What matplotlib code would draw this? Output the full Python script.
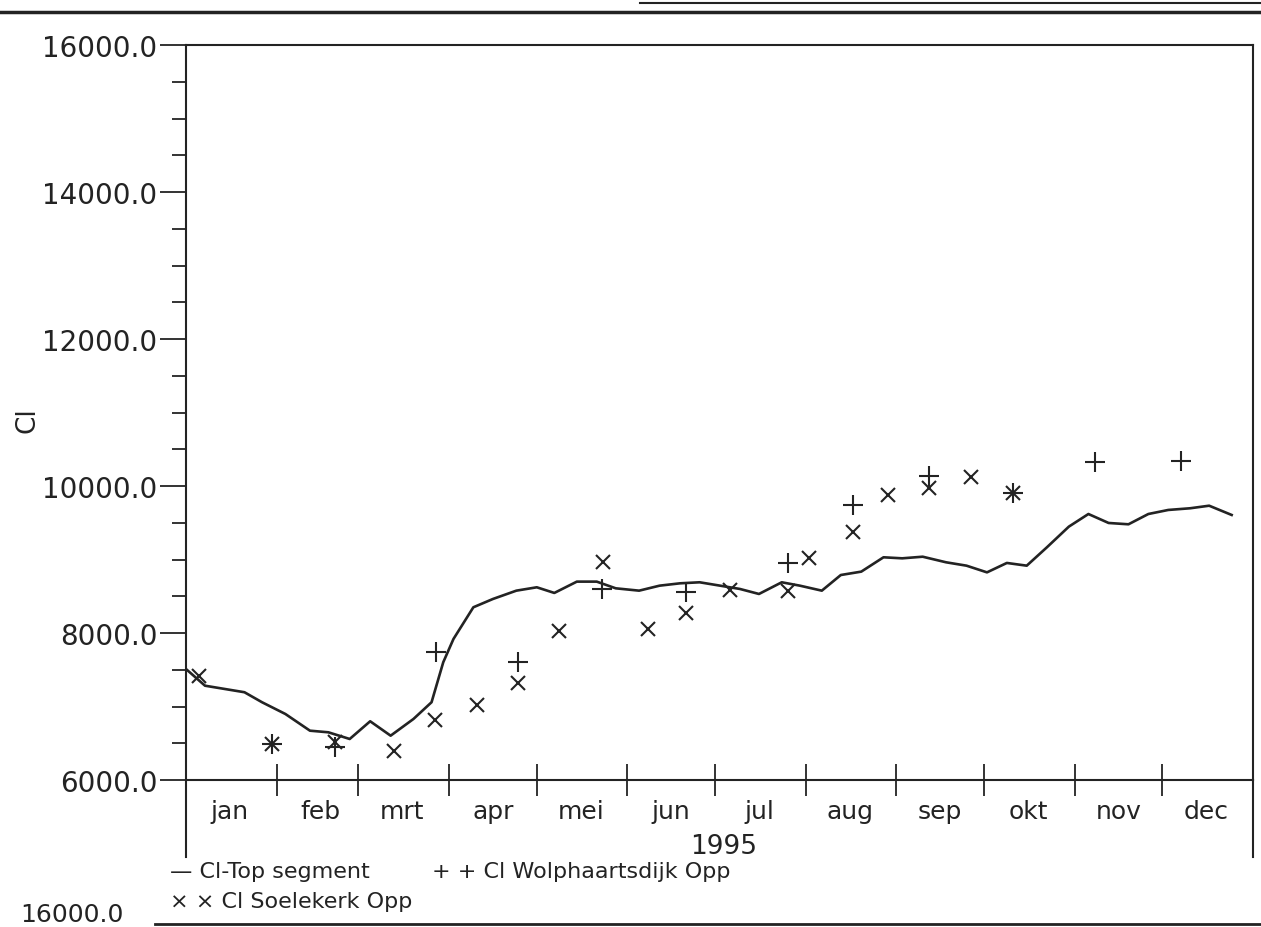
import numpy as np
import pandas as pd
import matplotlib
matplotlib.use("Agg")
import matplotlib.pyplot as plt
import matplotlib.dates as mdates
from matplotlib.ticker import FormatStrFormatter, MultipleLocator, FuncFormatter
from matplotlib.lines import Line2D

# Cl (mg/l) 1995, x = dagen na 1 januari
top_dag = [0, 6.5, 20, 26, 34, 42.4, 48.7, 56, 63, 70, 77.8, 84, 88, 91.5, 98.3,
           105, 113, 120, 126, 133.7, 140.5, 147, 155, 162, 169, 175.7, 182.7,
           189.5, 196, 203.8, 210, 217.5, 224, 231, 238.6, 245, 252, 260, 267,
           274, 280.8, 287.6, 294.5, 302, 308.7, 315.6, 322.4, 329.2, 336,
           343.5, 350, 357.7]
top_cl = [7510, 7283, 7194, 7058, 6898, 6671, 6649, 6558, 6799, 6603, 6830, 7058,
          7602, 7919, 8350, 8463, 8576, 8622, 8545, 8699, 8699, 8608, 8576, 8644,
          8676, 8690, 8644, 8599, 8531, 8690, 8644, 8576, 8789, 8835, 9030, 9016,
          9038, 8962, 8916, 8825, 8953, 8916, 9166, 9447, 9619, 9497, 9479, 9619,
          9674, 9697, 9732, 9606]

soel_dag = [4.4, 29.3, 51, 71, 85.2, 99.4, 113.4, 127.6, 142.8, 158, 171, 186,
            205.8, 213, 228, 240, 254, 268.5, 283]
soel_cl = [7411, 6490, 6513, 6399, 6816, 7021, 7320, 8032, 8970, 8055, 8272, 8590,
           8576, 9016, 9378, 9878, 9969, 10118, 9905]

wolp_dag = [29.3, 51, 85.4, 113.4, 142.4, 171, 205.8, 228, 254, 283, 311, 340.4]
wolp_cl = [6490, 6445, 7738, 7602, 8599, 8554, 8948, 9746, 10140, 9905, 10323, 10345]

maanden = ["jan", "feb", "mrt", "apr", "mei", "jun", "jul", "aug", "sep", "okt", "nov", "dec"]

start = pd.Timestamp("1995-01-01")
ink = "#232323"
W, H = 1261, 928


def naar_datum(dagen):
    return start + pd.to_timedelta(np.array(dagen), unit="D")


def main():
    plt.rcParams["font.family"] = "DejaVu Sans"
    fig = plt.figure(figsize=(W / 100, H / 100), dpi=100)
    fig.patch.set_facecolor("white")
    ax = fig.add_axes([186 / W, 1 - 781 / H, (1253 - 186) / W, (781 - 46) / H])

    ax.plot(naar_datum(top_dag), top_cl, color=ink, lw=1.9)
    ax.plot(naar_datum(soel_dag), soel_cl, ls="none", marker="x", ms=10, mew=1.5, color=ink)
    ax.plot(naar_datum(wolp_dag), wolp_cl, ls="none", marker="+", ms=14, mew=1.5, color=ink)

    # y-as
    ax.set_ylim(6000, 16000)
    ax.yaxis.set_major_locator(MultipleLocator(2000))
    ax.yaxis.set_minor_locator(MultipleLocator(500))
    ax.yaxis.set_major_formatter(FormatStrFormatter("%.1f"))
    ax.tick_params(axis="y", which="major", direction="out", length=19, width=1.3,
                   pad=1.5, labelsize=20, colors=ink)
    ax.tick_params(axis="y", which="minor", direction="out", length=10, width=1.3, colors=ink)

    # x-as: maandgrenzen als streepjes, namen in het midden
    ax.set_xlim(start, start + pd.Timedelta(days=365))
    ax.xaxis.set_major_locator(mdates.MonthLocator())
    ax.xaxis.set_major_formatter(FuncFormatter(lambda v, p: ""))
    ax.xaxis.set_minor_locator(mdates.MonthLocator(bymonthday=16))
    ax.xaxis.set_minor_formatter(FuncFormatter(lambda v, p: maanden[mdates.num2date(v).month - 1]))
    ax.tick_params(axis="x", which="major", direction="inout", length=23, width=1.3, colors=ink)
    ax.tick_params(axis="x", which="minor", length=0, pad=14, labelsize=18, colors=ink)

    for s in ax.spines.values():
        s.set_color(ink)
        s.set_linewidth(1.5)
    # zijkanten lopen door onder de as
    for xs in (0, 1):
        ax.add_line(Line2D([xs, xs], [0, -(858 - 781) / (781 - 46)], transform=ax.transAxes,
                           color=ink, lw=1.5, clip_on=False))

    fig.text(28 / W, 1 - 420 / H, "Cl", rotation=90, ha="center", va="center", size=19, color=ink)
    fig.text(724 / W, 1 - 847 / H, "1995", ha="center", va="center", size=19, color=ink)

    # legenda
    fig.text(170 / W, 1 - 872 / H, "— Cl-Top segment", ha="left", va="center", size=16, color=ink)
    fig.text(432 / W, 1 - 872 / H, "+ + Cl Wolphaartsdijk Opp", ha="left", va="center", size=16, color=ink)
    fig.text(170 / W, 1 - 902 / H, "× × Cl Soelekerk Opp", ha="left", va="center", size=16, color=ink)

    # resten van de vorige en volgende grafiek op de scan
    fig.add_artist(Line2D([0, 1], [1 - 13 / H, 1 - 13 / H], transform=fig.transFigure, color=ink, lw=2.5))
    fig.add_artist(Line2D([640 / W, 1], [1 - 4 / H, 1 - 4 / H], transform=fig.transFigure, color=ink, lw=1.5))
    fig.add_artist(Line2D([155 / W, 1], [1 - 925 / H, 1 - 925 / H], transform=fig.transFigure, color=ink, lw=2.0))
    fig.text(20 / W, 1 - 927 / H, "16000.0", ha="left", va="bottom", size=18, color=ink)

    fig.savefig("out.png", dpi=100)


if __name__ == "__main__":
    main()
